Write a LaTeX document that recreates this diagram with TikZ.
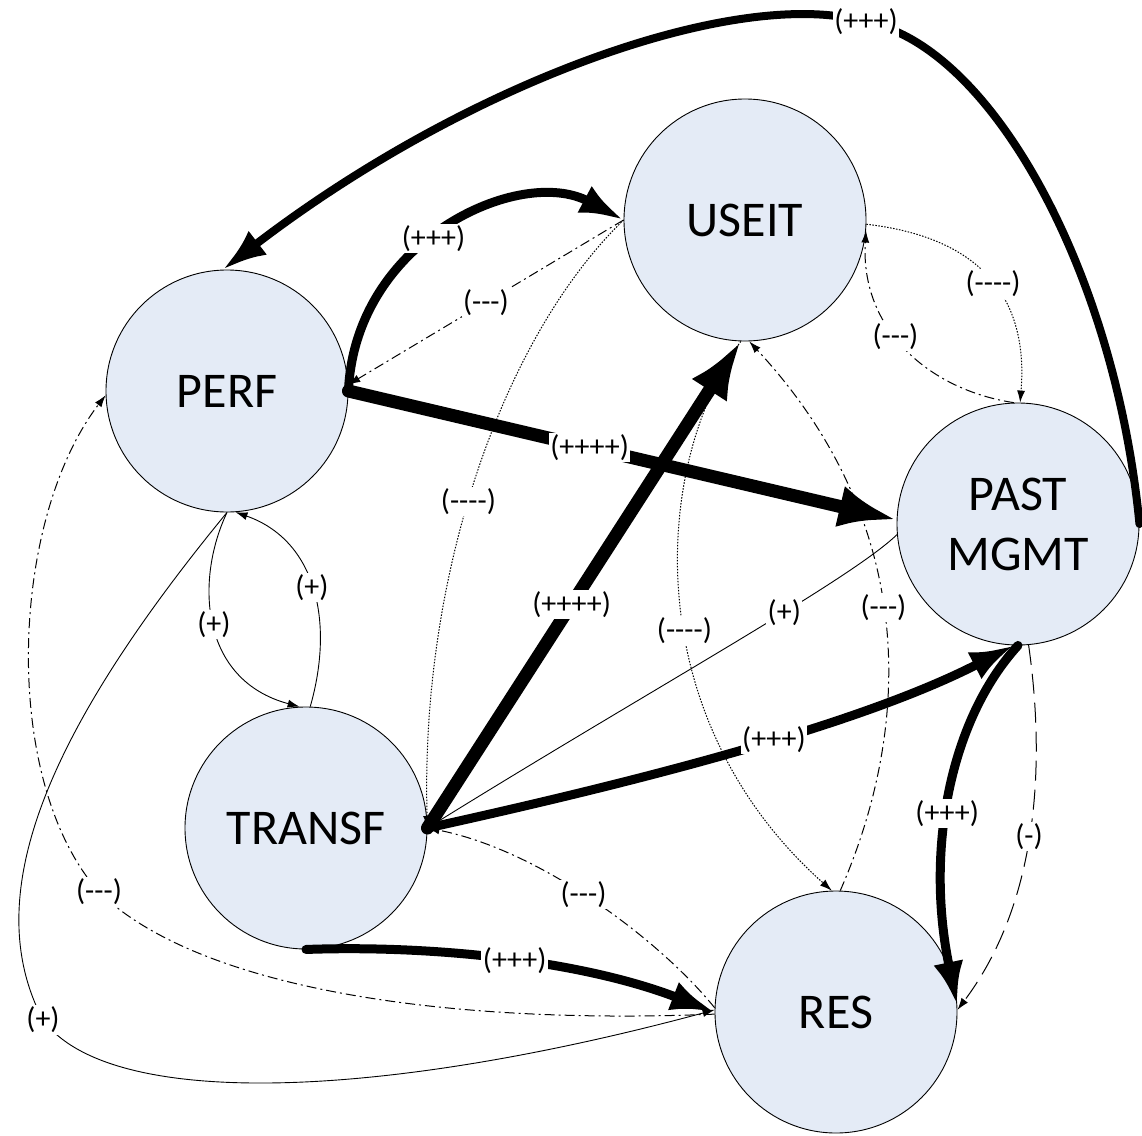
\documentclass[tikz,border=0pt]{standalone}
\usepackage{fontspec}
\setmainfont{Carlito}[Ligatures=TeXOff]
\usetikzlibrary{arrows.meta}
\definecolor{nodefill}{RGB}{228,235,246}

\begin{document}
\begin{tikzpicture}[x=1pt,y=-1pt,
  state/.style={circle, draw, line width=0.9pt, fill=nodefill, minimum size=242pt,
                inner sep=0pt, align=center, font=\fontsize{50}{60}\selectfont},
  lbl/.style={fill=white, inner sep=1.5pt, font=\fontsize{30}{32}\selectfont},
  thinlink/.style={line width=0.9pt},
  dotlink/.style={line width=1pt, dash pattern=on 1.5pt off 1.5pt},
  dashdot/.style={line width=1pt, dash pattern=on 10pt off 4pt on 2pt off 4pt},
  longdash/.style={line width=1pt, dash pattern=on 20pt off 9pt},
  strong/.style={line width=9pt, line cap=round},
  strongest/.style={line width=13pt, line cap=round},
  tipS/.style={-{Latex[length=12pt,width=8pt]}},
  tipM/.style={-{Latex[length=44pt,width=30pt]}},
  tipL/.style={-{Latex[length=58pt,width=42pt]}},
]
\useasboundingbox (0,0) rectangle (1142,1135);

% factors
\node[state] (useit)  at (745,220)  {USEIT};
\node[state] (perf)   at (227,391)  {PERF};
\node[state] (pm)     at (1018,524) {PAST\\MGMT};
\node[state] (transf) at (306,828)  {TRANSF};
\node[state] (res)    at (836,1012) {RES};

% PAST MGMT -> PERF, outer arc
\draw[strong, line width=8pt, tipM] (pm.east) .. controls (1115,270) and (990,45) .. (866,22) coordinate (lA)
      .. controls (740,-15) and (470,80) .. (perf.92);
% PERF -> USEIT
\draw[strong, tipM] (perf.east) .. controls (355,240) and (520,165) .. (useit.west) coordinate[pos=0.45] (lB);
% USEIT -> PERF
\draw[dashdot, tipS] (useit.west) -- (perf.3) coordinate[pos=0.5] (lC);
% PERF -> PAST MGMT
\draw[strongest, tipL] (perf.east) -- (pm.178) coordinate[pos=0.44] (lD);
% USEIT -> TRANSF
\draw[dotlink, tipS] (useit.west) .. controls (500,340) and (420,580) .. (transf.east) coordinate[pos=0.54] (lE);
% TRANSF -> USEIT
\draw[strongest, tipL] (transf.east) -- (useit.268) coordinate[pos=0.46] (lF);
% USEIT -> RES
\draw[dotlink, tipS] (useit.268) .. controls (650,470) and (640,720) .. (res.92) coordinate[pos=0.55] (lG);
% RES -> USEIT
\draw[dashdot, tipS] (res.88) .. controls (915,720) and (915,520) .. (useit.272) coordinate[pos=0.52] (lH);
% USEIT -> PAST MGMT
\draw[dotlink, tipS] (useit.358) .. controls (960,235) and (1030,280) .. (pm.89) coordinate[pos=0.57] (lI);
% PAST MGMT -> USEIT
\draw[dashdot, tipS] (pm.92) .. controls (930,390) and (860,330) .. (useit.355) coordinate[pos=0.57] (lJ);
% PAST MGMT -> RES
\draw[longdash, tipS] (pm.275) .. controls (1045,760) and (1040,900) .. (res.1) coordinate[pos=0.52] (lK);
\draw[strong, tipM] (pm.270) .. controls (950,720) and (925,850) .. (res.3) coordinate[pos=0.55] (lL);
% TRANSF -> PAST MGMT
\draw[strong, tipM] (transf.east) .. controls (600,790) and (850,730) .. (pm.268) coordinate[pos=0.58] (lM);
% PAST MGMT -> TRANSF
\draw[thinlink, tipS] (pm.185) .. controls (850,580) and (650,690) .. (transf.east) coordinate[pos=0.38] (lN);
% RES -> TRANSF
\draw[dashdot, tipS] (res.178) .. controls (660,940) and (540,850) .. (transf.east) coordinate[pos=0.53] (lO);
% TRANSF -> RES
\draw[strong, tipM] (transf.270) .. controls (430,945) and (580,960) .. (res.180) coordinate[pos=0.52] (lP);
% RES -> PERF, round the left side
\draw[dashdot, tipS] (res.181) .. controls (450,1025) and (200,990) .. (99,892) coordinate (lQ)
      .. controls (0,780) and (10,520) .. (perf.182);
% PERF -> RES, round the bottom left
\draw[thinlink, tipS] (perf.270) .. controls (40,740) and (-20,900) .. (43,1020) coordinate (lR)
      .. controls (110,1110) and (380,1100) .. (res.179);
% PERF <-> TRANSF
\draw[thinlink, tipS] (perf.270) .. controls (195,580) and (200,680) .. (transf.93) coordinate[pos=0.5] (lS);
\draw[thinlink, tipS] (transf.88) .. controls (335,620) and (315,540) .. (perf.274) coordinate[pos=0.5] (lT);

% strength labels
\node[lbl] at (lA) {(+++)};
\node[lbl] at (lB) {(+++)};
\node[lbl] at (lC) {(---)};
\node[lbl] at (lD) {(++++)};
\node[lbl] at (lE) {(----)};
\node[lbl] at (lF) {(++++)};
\node[lbl] at (lG) {(----)};
\node[lbl] at (lH) {(---)};
\node[lbl] at (lI) {(----)};
\node[lbl] at (lJ) {(---)};
\node[lbl] at (lK) {(-)};
\node[lbl] at (lL) {(+++)};
\node[lbl] at (lM) {(+++)};
\node[lbl] at (lN) {(+)};
\node[lbl] at (lO) {(---)};
\node[lbl] at (lP) {(+++)};
\node[lbl] at (lQ) {(---)};
\node[lbl] at (lR) {(+)};
\node[lbl] at (lS) {(+)};
\node[lbl] at (lT) {(+)};
\end{tikzpicture}
\end{document}
